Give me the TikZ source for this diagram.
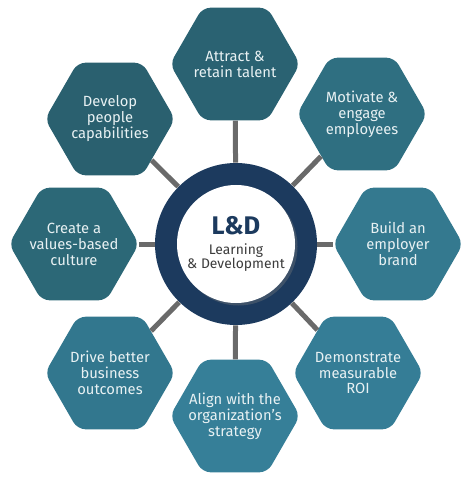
\documentclass[tikz,border=0pt]{standalone}
\usepackage{fontspec}
\setmainfont{Fira Sans}
\usetikzlibrary{shapes.geometric,shadows}

\definecolor{ringblue}{HTML}{1C3A5E}
\definecolor{spokegray}{HTML}{6A6A6A}
\definecolor{hextext}{HTML}{E8F1F3}
\definecolor{subgray}{HTML}{3C3C3C}
\definecolor{hexA}{HTML}{2A6272}
\definecolor{hexB}{HTML}{2F6F81}
\definecolor{hexC}{HTML}{34798F}
\definecolor{hexD}{HTML}{357D96}
\definecolor{hexE}{HTML}{367F98}
\definecolor{hexF}{HTML}{32778E}
\definecolor{hexG}{HTML}{2C6877}
\definecolor{hexH}{HTML}{2A606F}

\begin{document}
\begin{tikzpicture}[x=0.2mm, y=-0.2mm,
                    hex node/.style={regular polygon, regular polygon sides=6, minimum size=26mm, inner sep=0pt,
                                     rounded corners=1.6mm, fill=#1},
                    hex text/.style={text=hextext, align=center, inner sep=0pt,
                                     font=\fontsize{8.4}{9.1}\selectfont},
                    ring node/.style={circle, fill=ringblue, minimum size=32.4mm},
                    core node/.style={circle, fill=white, minimum size=23.6mm, inner sep=0pt, align=center,
                                      text=subgray, font=\fontsize{7.9}{8.1}\selectfont,
                                      drop shadow={shadow xshift=0.5mm, shadow yshift=-0.5mm, opacity=0.35}},
                    spoke/.style={draw=spokegray, line width=1mm}]

	\useasboundingbox (0,0) rectangle (474,483);

	\node[ring node] (1) at (236,244) {};
	\node[core node] (0) at (236,244) {{\color{ringblue}\fontsize{14.5}{14.5}\selectfont\bfseries L\&D}\\[3pt]Learning\\\& Development};

	\node[hex node=hexA, label={[hex text]center:{Attract \&\\retain talent}}] (2) at (235,64) {};
	\node[hex node=hexB, label={[hex text]center:{Motivate \&\\engage\\employees}}] (3) at (362,114) {};
	\node[hex node=hexC, label={[hex text]center:{Build an\\employer\\brand}}] (4) at (398,244) {};
	\node[hex node=hexD, label={[hex text]center:{Demonstrate\\measurable\\ROI}}] (5) at (358,373) {};
	\node[hex node=hexE, label={[hex text]center:{Align with the\\organization's\\strategy}}] (6) at (235,416) {};
	\node[hex node=hexF, label={[hex text]center:{Drive better\\business\\outcomes}}] (7) at (110,373) {};
	\node[hex node=hexG, label={[hex text]center:{Create a\\values-based\\culture}}] (8) at (74,244) {};
	\node[hex node=hexH, label={[hex text]center:{Develop\\people\\capabilities}}] (9) at (110,119) {};

  \path[spoke]
    (1) edge (2)
        edge (3)
        edge (4)
        edge (5)
        edge (6)
        edge (7)
        edge (8)
        edge (9);

\end{tikzpicture}
\end{document}
